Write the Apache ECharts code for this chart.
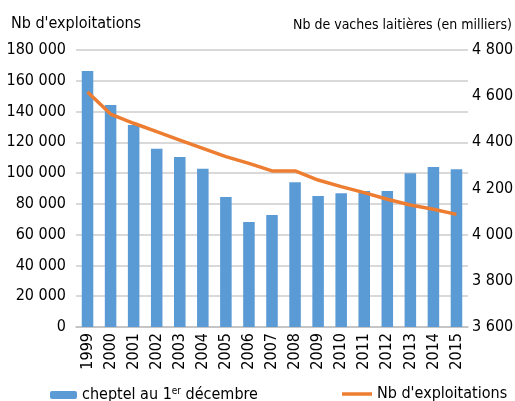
<!DOCTYPE html>
<html>
<head>
<meta charset="utf-8">
<script src="https://cdn.jsdelivr.net/npm/echarts@6/dist/echarts.min.js"></script>
<style>
  html, body { margin: 0; padding: 0; background: #fff; }
  #chart { width: 515px; height: 401px; }
</style>
</head>
<body>
<div id="chart"></div>
<script>
// années
const annees = ["1999", "2000", "2001", "2002", "2003", "2004", "2005", "2006", "2007",
  "2008", "2009", "2010", "2011", "2012", "2013", "2014", "2015"];

// cheptel au 1er décembre (milliers de vaches) -> axe de droite
const cheptel = [4709, 4562, 4475, 4372, 4336, 4286, 4163, 4055, 4085,
  4227, 4167, 4179, 4189, 4189, 4266, 4293, 4283];

// nombre d'exploitations -> axe de gauche
const exploitations = [152700, 138400, 132400, 126900, 121500, 116100, 110700, 106300, 101400,
  101400, 95500, 91200, 87300, 83000, 79300, 76500, 73200];

const police = "'DejaVu Sans Condensed', 'Liberation Sans Narrow', sans-serif";

// 180000 -> "180 000"
function milliers(v) {
  return String(v).replace(/\B(?=(\d{3})+(?!\d))/g, " ");
}

let myChart = echarts.init(document.getElementById("chart"));

let option = {
  animation: false,
  textStyle: { fontFamily: police, color: "#000" },
  grid: { left: 76, right: 47, top: 50, bottom: 74, outerBoundsMode: "none" },
  legend: [
    {
      data: ["cheptel au 1er décembre"],
      left: 45,
      top: 381,
      itemWidth: 27,
      itemHeight: 8,
      itemGap: 2,
      formatter: function() {
        return "{a|cheptel au 1}{sup|er}{a| décembre}";
      },
      textStyle: {
        rich: {
          a: { fontFamily: police, fontSize: 16, color: "#000" },
          sup: { fontFamily: police, fontSize: 10, color: "#000", padding: [0, 0, 8, 0] }
        }
      }
    },
    {
      data: [{ name: "Nb d'exploitations", icon: "rect" }],
      left: 337,
      top: 381,
      itemWidth: 30,
      itemHeight: 3.5,
      itemGap: 2,
      textStyle: { fontFamily: police, fontSize: 16, color: "#000" }
    }
  ],
  xAxis: {
    type: "category",
    data: annees,
    axisLine: { lineStyle: { color: "#bfbfbf", width: 1.5 } },
    axisTick: { length: 5, lineStyle: { color: "#bfbfbf", width: 1.5 } },
    axisLabel: {
      interval: 0,
      rotate: 90,
      margin: 6,
      fontFamily: police,
      fontSize: 16,
      color: "#000"
    }
  },
  yAxis: [
    {
      type: "value",
      name: "Nb d'exploitations",
      nameLocation: "end",
      nameGap: 18,
      nameTextStyle: { fontFamily: police, fontSize: 16, color: "#000" },
      min: 0,
      max: 180000,
      interval: 20000,
      axisLine: { show: false },
      axisTick: { show: false },
      axisLabel: {
        margin: 10,
        fontFamily: police,
        fontSize: 16,
        color: "#000",
        formatter: milliers
      },
      splitLine: { lineStyle: { color: "#d9d9d9", width: 2 } }
    },
    {
      type: "value",
      name: "Nb de vaches laitières (en milliers)",
      nameLocation: "end",
      nameGap: 18,
      nameTextStyle: {
        fontFamily: police,
        fontSize: 14,
        color: "#000",
        align: "right",
        padding: [0, -44, 0, 0]
      },
      min: 3600,
      max: 4800,
      interval: 200,
      axisLine: { show: false },
      axisTick: { show: false },
      axisLabel: {
        margin: 4,
        fontFamily: police,
        fontSize: 16,
        color: "#000",
        formatter: milliers
      },
      splitLine: { show: false }
    }
  ],
  series: [
    {
      name: "cheptel au 1er décembre",
      type: "bar",
      yAxisIndex: 1,
      data: cheptel,
      barWidth: "50%",
      itemStyle: { color: "#5b9bd5" }
    },
    {
      name: "Nb d'exploitations",
      type: "line",
      yAxisIndex: 0,
      data: exploitations,
      symbol: "none",
      z: 5,
      lineStyle: { color: "#ed7d31", width: 3.5 },
      itemStyle: { color: "#ed7d31" }
    }
  ]
};

myChart.setOption(option);
</script>
</body>
</html>
